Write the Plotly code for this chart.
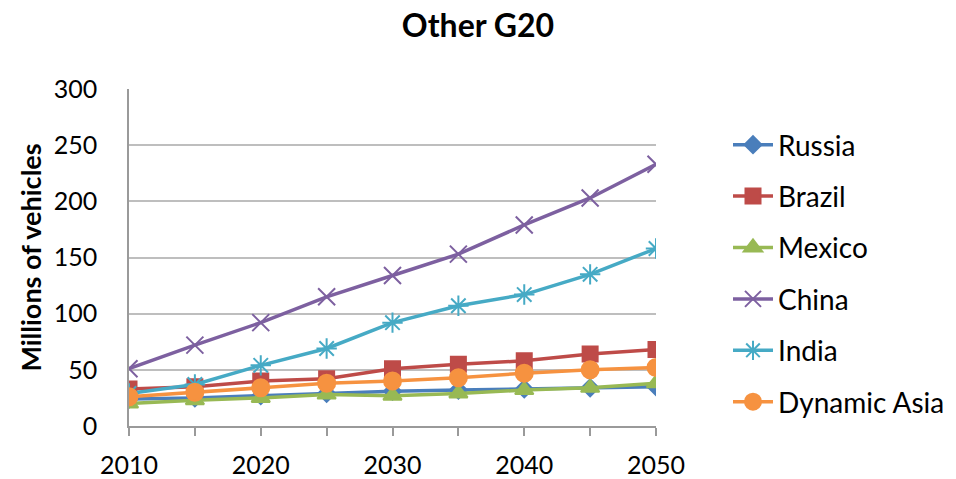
import plotly.graph_objects as go

years = [2010, 2015, 2020, 2025, 2030, 2035, 2040, 2045, 2050]
russia = [24, 25, 27, 29, 31, 32, 33, 34, 35]
brazil = [33, 35, 40, 42, 51, 55, 58, 64, 68]
mexico = [20, 23, 25, 28, 27, 29, 32, 34, 38]
china = [51, 72, 92, 115, 134, 153, 179, 203, 233]
india = [29, 37, 54, 69, 92, 107, 117, 135, 158]
dynamic_asia = [26, 30, 34, 38, 40, 43, 47, 50, 52]

series = [
    ("Russia", russia, "#4A7EBB", "diamond", 13),
    ("Brazil", brazil, "#BE4B48", "square", 15),
    ("Mexico", mexico, "#98B954", "triangle-up", 16),
    ("China", china, "#7D60A0", "x-thin-open", 17),
    ("India", india, "#46AAC5", "asterisk-open", 17),
    ("Dynamic Asia", dynamic_asia, "#F69240", "circle", 17),
]

FONT = "Lato, 'Open Sans', sans-serif"

fig = go.Figure()
for name, vals, color, sym, size in series:
    fig.add_trace(go.Scatter(
        x=years, y=vals, name=name, mode="lines+markers",
        legendgroup=name,
        line=dict(color=color, width=3.5),
        marker=dict(symbol=sym, size=size, color=color,
                    line=dict(color=color, width=2)),
    ))

tick_text = [str(y) if y % 10 == 0 else "" for y in years]

fig.update_layout(
    width=956, height=479,
    paper_bgcolor="white", plot_bgcolor="white",
    margin=dict(l=129, r=300, t=89, b=53),
    font=dict(family=FONT, size=24, color="#000000"),
    title=dict(text="<b>Other G20</b>", x=0.5, xanchor="center",
               y=1 - 26 / 479, yanchor="middle", font=dict(size=32)),
    xaxis=dict(
        range=[2010, 2050], tickvals=years, ticktext=tick_text,
        ticks="outside", ticklen=8, tickcolor="#9A9A9A", tickwidth=1.5,
        showline=True, linecolor="#9A9A9A", linewidth=1.5,
        showgrid=False, zeroline=False, fixedrange=True,
        ticklabelstandoff=8, automargin=False,
        tickfont=dict(size=25),
    ),
    yaxis=dict(
        range=[0, 300], dtick=50,
        showline=True, linecolor="#9A9A9A", linewidth=1.5,
        showgrid=True, gridcolor="#BEBEBE", gridwidth=2,
        zeroline=False, ticks="", ticklabelstandoff=25,
        tickfont=dict(size=25), automargin=False,
        title=dict(text="<b>Millions of vehicles</b>", font=dict(size=27),
                   standoff=4),
    ),
    legend=dict(
        xref="container", yref="container",
        x=728 / 956, y=1 - 120 / 479, xanchor="left", yanchor="top",
        font=dict(size=28), tracegroupgap=12, maxheight=420,
        itemwidth=40, bgcolor="rgba(0,0,0,0)",
    ),
)

fig.write_html("out.html")
